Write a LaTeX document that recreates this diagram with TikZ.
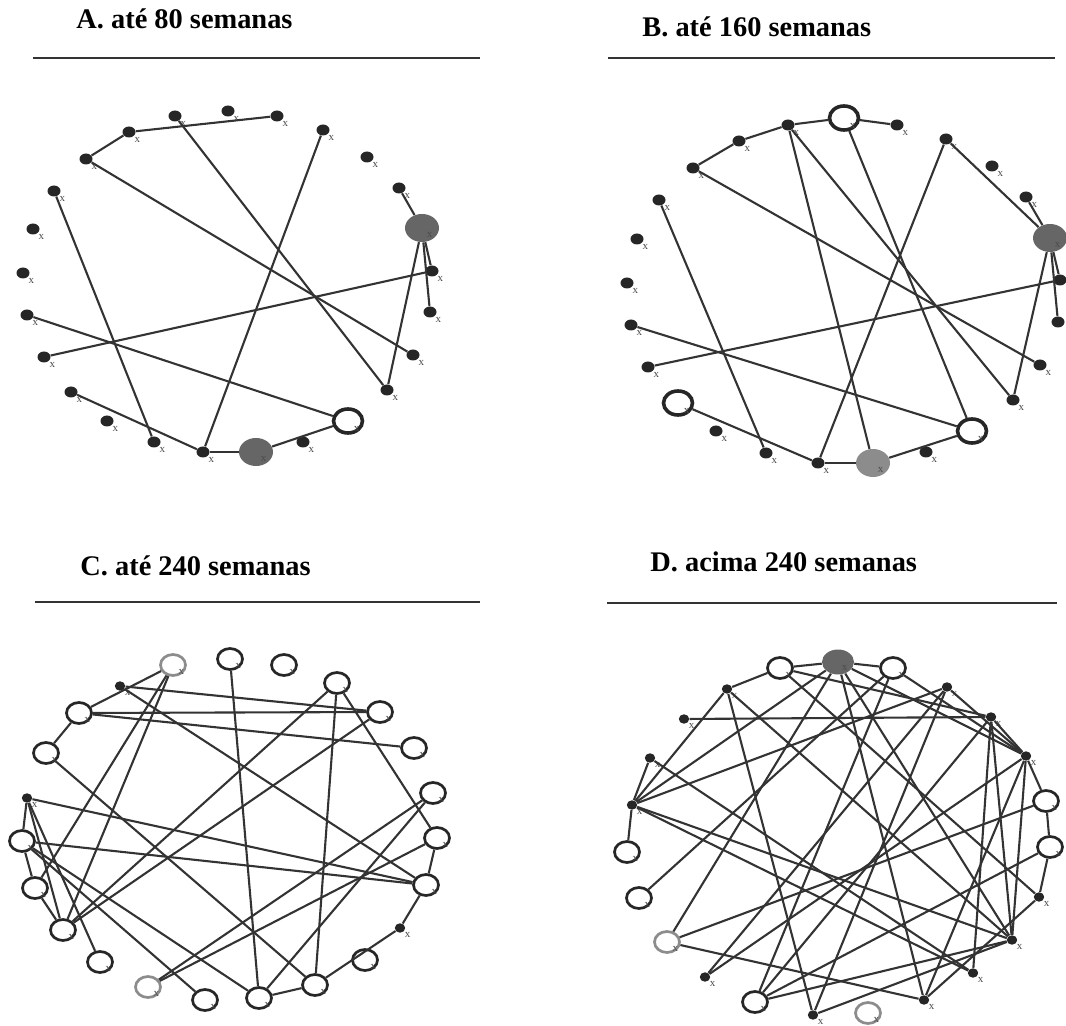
\documentclass[tikz,border=0pt]{standalone}
\usepackage{fontspec}
\setmainfont{Liberation Serif}
\usetikzlibrary{shapes.geometric}

\begin{document}
\begin{tikzpicture}[x=0.5pt,y=-0.5pt,
  lbl/.style={font=\fontsize{5.5}{5.5}\selectfont, text=black!70, inner sep=0pt},
  dot/.style={ellipse, fill=black!85, minimum width=6.5pt, minimum height=5.5pt, inner sep=0pt, label={[lbl,label distance=0.5pt]-45:x}},
  nodot/.style={ellipse, fill=black!85, minimum width=6.5pt, minimum height=5.5pt, inner sep=0pt},
  sdot/.style={ellipse, fill=black!85, minimum width=5.2pt, minimum height=4.7pt, inner sep=0pt, label={[lbl,label distance=0.5pt]-45:x}},
  blob/.style={ellipse, fill=black!60, minimum width=17pt, minimum height=14pt, inner sep=0pt, label={[lbl,label distance=-5pt]-40:x}},
  bigring/.style={ellipse, draw=black!85, line width=1.8pt, fill=white, minimum width=14.5pt, minimum height=12pt, inner sep=0pt, label={[lbl,label distance=-4pt]-40:x}},
  ring/.style={ellipse, draw=black!85, line width=1.35pt, fill=white, minimum width=12.5pt, minimum height=10.5pt, inner sep=0pt, label={[lbl,label distance=-3pt]-40:x}},
  grayring/.style={ring, draw=black!45},
  edge/.style={draw=black!80, line width=1.05pt},
  title/.style={anchor=base west, font=\fontsize{14.2}{16}\selectfont\bfseries, inner sep=0pt},
  rule/.style={draw=black!80, line width=1pt}]
\useasboundingbox (0,0) rectangle (1066,1026);

% titles
\node[title] (ta) at (76,29) {A. até 80 semanas};
\node[title] (tb) at (642,37) {B. até 160 semanas};
\node[title] (tc) at (80,575) {C. até 240 semanas};
\node[title] (td) at (650,572) {D. acima 240 semanas};
\draw[rule] (33,58) -- (480,58);
\draw[rule] (608,58) -- (1055,58);
\draw[rule] (35,602) -- (480,602);
\draw[rule] (607,603) -- (1057,603);

% A
\node[dot] (a1) at (175,116) {};
\node[dot] (a2) at (228,111) {};
\node[dot] (a3) at (277,116) {};
\node[dot] (a4) at (129,132) {};
\node[dot] (a5) at (86,159) {};
\node[dot] (a6) at (323,130) {};
\node[dot] (a7) at (367,157) {};
\node[dot] (a8) at (54,191) {};
\node[dot] (a9) at (399,188) {};
\node[blob] (a10) at (422,228) {};
\node[dot] (a11) at (33,229) {};
\node[dot] (a12) at (23,273) {};
\node[dot] (a13) at (432,271) {};
\node[dot] (a14) at (27,315) {};
\node[dot] (a15) at (430,312) {};
\node[dot] (a16) at (44,357) {};
\node[dot] (a17) at (413,355) {};
\node[dot] (a18) at (71,392) {};
\node[dot] (a19) at (387,390) {};
\node[dot] (a20) at (107,421) {};
\node[bigring] (a21) at (348,421) {};
\node[dot] (a22) at (154,442) {};
\node[dot] (a23) at (303,442) {};
\node[dot] (a24) at (203,452) {};
\node[blob] (a25) at (256,452) {};

\draw[edge] (a5) to (a4);
\draw[edge] (a4) to (a3);
\draw[edge] (a1) to (a19);
\draw[edge] (a5) to (a17);
\draw[edge] (a8) to (a22);
\draw[edge] (a6) to (a24);
\draw[edge] (a9) to (a10);
\draw[edge] (a10) to (a13);
\draw[edge] (a10) to (a15);
\draw[edge] (a10) to (a19);
\draw[edge] (a16) to (a13);
\draw[edge] (a14) to (a21);
\draw[edge] (a18) to (a24);
\draw[edge] (a24) to (a25);
\draw[edge] (a25) to (a21);

% B
\node[dot] (b1) at (788,125) {};
\node[bigring] (b2) at (844,118) {};
\node[dot] (b3) at (897,125) {};
\node[dot] (b4) at (739,141) {};
\node[dot] (b5) at (693,168) {};
\node[dot] (b6) at (946,139) {};
\node[dot] (b7) at (992,166) {};
\node[dot] (b8) at (659,200) {};
\node[dot] (b9) at (1026,197) {};
\node[blob] (b10) at (1050,238) {};
\node[dot] (b11) at (637,239) {};
\node[dot] (b12) at (627,283) {};
\node[nodot] (b13) at (1060,280) {};
\node[dot] (b14) at (631,325) {};
\node[nodot] (b15) at (1058,322) {};
\node[dot] (b16) at (648,367) {};
\node[dot] (b17) at (1040,365) {};
\node[bigring] (b18) at (678,403) {};
\node[dot] (b19) at (1013,400) {};
\node[dot] (b20) at (716,431) {};
\node[bigring] (b21) at (972,431) {};
\node[dot] (b22) at (766,453) {};
\node[dot] (b23) at (926,452) {};
\node[dot] (b24) at (818,463) {};
\node[blob, fill=black!45] (b25) at (873,463) {};

\draw[edge] (b5) to (b4);
\draw[edge] (b4) to (b1);
\draw[edge] (b1) to (b2);
\draw[edge] (b2) to (b3);
\draw[edge] (b1) to (b25);
\draw[edge] (b1) to (b19);
\draw[edge] (b5) to (b17);
\draw[edge] (b2) to (b21);
\draw[edge] (b6) to (b24);
\draw[edge] (b6) to (b10);
\draw[edge] (b9) to (b10);
\draw[edge] (b10) to (b13);
\draw[edge] (b10) to (b15);
\draw[edge] (b10) to (b19);
\draw[edge] (b16) to (b13);
\draw[edge] (b14) to (b21);
\draw[edge] (b8) to (b22);
\draw[edge] (b18) to (b24);
\draw[edge] (b24) to (b25);
\draw[edge] (b25) to (b21);

% C
\node[grayring] (c1) at (173,665) {};
\node[ring] (c2) at (230,659) {};
\node[ring] (c3) at (284,665) {};
\node[sdot] (c4) at (120,686) {};
\node[ring] (c5) at (337,683) {};
\node[ring] (c6) at (79,713) {};
\node[ring] (c7) at (380,712) {};
\node[ring] (c8) at (46,753) {};
\node[ring] (c9) at (414,748) {};
\node[sdot] (c10) at (27,798) {};
\node[ring] (c11) at (433,793) {};
\node[ring] (c12) at (22,841) {};
\node[ring] (c13) at (437,838) {};
\node[ring] (c14) at (35,888) {};
\node[ring] (c15) at (426,885) {};
\node[ring] (c16) at (63,930) {};
\node[sdot] (c17) at (400,928) {};
\node[ring] (c18) at (100,962) {};
\node[ring] (c19) at (365,960) {};
\node[grayring] (c20) at (148,987) {};
\node[ring] (c21) at (315,985) {};
\node[ring] (c22) at (205,1000) {};
\node[ring] (c23) at (259,998) {};

\draw[edge] (c1) to (c6);
\draw[edge] (c1) to (c14);
\draw[edge] (c1) to (c16);
\draw[edge] (c6) to (c8);
\draw[edge] (c6) to (c7);
\draw[edge] (c6) to (c9);
\draw[edge] (c4) to (c7);
\draw[edge] (c4) to (c15);
\draw[edge] (c8) to (c21);
\draw[edge] (c10) to (c12);
\draw[edge] (c10) to (c15);
\draw[edge] (c10) to (c16);
\draw[edge] (c10) to (c18);
\draw[edge] (c12) to (c14);
\draw[edge] (c12) to (c15);
\draw[edge] (c12) to (c22);
\draw[edge] (c12) to (c23);
\draw[edge] (c14) to (c16);
\draw[edge] (c16) to (c5);
\draw[edge] (c16) to (c7);
\draw[edge] (c5) to (c21);
\draw[edge] (c5) to (c13);
\draw[edge] (c2) to (c23);
\draw[edge] (c11) to (c20);
\draw[edge] (c11) to (c23);
\draw[edge] (c13) to (c20);
\draw[edge] (c13) to (c15);
\draw[edge] (c15) to (c17);
\draw[edge] (c17) to (c21);
\draw[edge] (c21) to (c23);

% D
\node[ring] (d1) at (780,668) {};
\node[blob, minimum width=16pt, minimum height=12.5pt] (d2) at (838,662) {};
\node[ring] (d3) at (893,668) {};
\node[sdot] (d4) at (727,689) {};
\node[sdot] (d5) at (947,687) {};
\node[sdot] (d6) at (684,719) {};
\node[sdot] (d7) at (991,717) {};
\node[sdot] (d8) at (650,758) {};
\node[sdot] (d9) at (1026,756) {};
\node[sdot] (d10) at (632,805) {};
\node[ring] (d11) at (1046,801) {};
\node[ring] (d12) at (627,852) {};
\node[ring] (d13) at (1050,847) {};
\node[sdot] (d14) at (1039,897) {};
\node[ring] (d15) at (639,898) {};
\node[grayring] (d16) at (667,942) {};
\node[sdot] (d17) at (1012,940) {};
\node[sdot] (d18) at (705,977) {};
\node[sdot] (d19) at (973,973) {};
\node[ring] (d20) at (755,1002) {};
\node[sdot] (d21) at (924,1000) {};
\node[sdot] (d22) at (813,1015) {};
\node[grayring] (d23) at (868,1013) {};

\draw[edge] (d1) to (d2);
\draw[edge] (d2) to (d3);
\draw[edge] (d4) to (d1);
\draw[edge] (d4) to (d10);
\draw[edge] (d4) to (d22);
\draw[edge] (d4) to (d17);
\draw[edge] (d6) to (d7);
\draw[edge] (d8) to (d10);
\draw[edge] (d10) to (d12);
\draw[edge] (d10) to (d2);
\draw[edge] (d10) to (d5);
\draw[edge] (d10) to (d17);
\draw[edge] (d10) to (d19);
\draw[edge] (d8) to (d19);
\draw[edge] (d2) to (d16);
\draw[edge] (d2) to (d17);
\draw[edge] (d2) to (d21);
\draw[edge] (d2) to (d9);
\draw[edge] (d3) to (d9);
\draw[edge] (d3) to (d20);
\draw[edge] (d3) to (d15);
\draw[edge] (d1) to (d7);
\draw[edge] (d1) to (d14);
\draw[edge] (d5) to (d18);
\draw[edge] (d5) to (d22);
\draw[edge] (d5) to (d9);
\draw[edge] (d7) to (d17);
\draw[edge] (d7) to (d20);
\draw[edge] (d7) to (d9);
\draw[edge] (d7) to (d19);
\draw[edge] (d9) to (d21);
\draw[edge] (d9) to (d18);
\draw[edge] (d9) to (d11);
\draw[edge] (d9) to (d17);
\draw[edge] (d11) to (d13);
\draw[edge] (d13) to (d14);
\draw[edge] (d11) to (d16);
\draw[edge] (d13) to (d20);
\draw[edge] (d16) to (d21);
\draw[edge] (d17) to (d20);
\draw[edge] (d17) to (d22);
\draw[edge] (d14) to (d21);

\end{tikzpicture}
\end{document}
